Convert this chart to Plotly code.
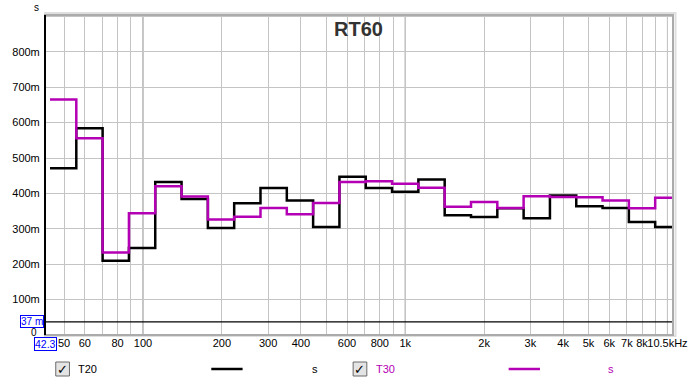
import math
import plotly.graph_objects as go

# ---- data ----
band_centres = [50, 63, 80, 100, 125, 160, 200, 250, 315, 400, 500, 630, 800,
                1000, 1250, 1600, 2000, 2500, 3150, 4000, 5000, 6300, 8000, 10000]
t20 = [0.471, 0.584, 0.210, 0.246, 0.432, 0.384, 0.302, 0.372, 0.415, 0.380,
       0.305, 0.447, 0.415, 0.405, 0.439, 0.338, 0.333, 0.358, 0.330, 0.394,
       0.364, 0.359, 0.319, 0.305]
t30 = [0.665, 0.556, 0.233, 0.344, 0.420, 0.391, 0.326, 0.334, 0.359, 0.341,
       0.373, 0.432, 0.434, 0.427, 0.416, 0.362, 0.376, 0.359, 0.392, 0.390,
       0.389, 0.380, 0.358, 0.388]
x_tick_vals = [50, 60, 80, 100, 200, 300, 400, 600, 800, 1000, 2000, 3000,
               4000, 5000, 6000, 7000, 8000, 10000]
x_tick_text = ["50", "60", "80", "100", "200", "300", "400", "600", "800", "1k",
               "2k", "3k", "4k", "5k", "6k", "7k", "8k", "10.5kHz"]
x_grid_vals = [50, 60, 70, 80, 90, 200, 300, 400, 500, 600, 700, 800, 900,
               2000, 3000, 4000, 5000, 6000, 7000, 8000, 9000]
x_major_grid = [100, 1000, 10000]
y_tick_vals = [0.1, 0.2, 0.3, 0.4, 0.5, 0.6, 0.7, 0.8, 0.9]
y_tick_text = ["100m", "200m", "300m", "400m", "500m", "600m", "700m", "800m", ""]
x_min, x_max = 42.3, 10500
y_min, y_max = 0.0, 0.904
marker_level = 0.037

# exact third-octave centres and band edges
exact = [1000 * 2 ** (round(3 * math.log2(c / 1000)) / 3) for c in band_centres]
half = 2 ** (1 / 6)
edges = [c / half for c in exact] + [exact[-1] * half]


def steps(vals):
    return edges, list(vals) + [vals[-1]]


FONT = "Liberation Sans, Arial, sans-serif"
fig = go.Figure()
ex, ey = steps(t20)
fig.add_trace(go.Scatter(x=ex, y=ey, mode="lines", line=dict(color="#000000", width=2.5, shape="hv"),
                         name="T20", showlegend=False))
ex, ey = steps(t30)
fig.add_trace(go.Scatter(x=ex, y=ey, mode="lines", line=dict(color="#b400b4", width=2.5, shape="hv"),
                         name="T30", showlegend=False))

fig.update_layout(
    width=700, height=382,
    margin=dict(l=39, r=19, t=15, b=47),
    paper_bgcolor="white", plot_bgcolor="white",
    font=dict(family=FONT, size=11, color="black"),
    xaxis=dict(type="log", range=[math.log10(x_min), math.log10(x_max)],
               tickvals=x_tick_vals, ticktext=x_tick_text, tickangle=0,
               showgrid=True, gridcolor="#c4c4c4", gridwidth=1,
               minor=dict(tickvals=x_grid_vals, showgrid=True, gridcolor="#c4c4c4", gridwidth=1, ticks=""),
               ticks="", zeroline=False, showline=False, tickfont=dict(size=11)),
    yaxis=dict(range=[y_min, y_max], tickvals=y_tick_vals, ticktext=y_tick_text,
               showgrid=True, gridcolor="#c4c4c4", gridwidth=1,
               ticks="outside", ticklen=2, tickcolor="rgba(0,0,0,0)",
               zeroline=False, showline=False, tickfont=dict(size=11)),
)

shapes = []
for v in x_major_grid:
    shapes.append(dict(type="line", xref="x", yref="paper", x0=v, x1=v, y0=0, y1=1,
                       line=dict(color="#8a8a8a", width=1), layer="below"))
# marker line at 37m
shapes.append(dict(type="line", xref="paper", yref="y", x0=0, x1=1, y0=marker_level, y1=marker_level,
                   line=dict(color="black", width=1.2)))
# frame (gray with shadow) and black left axis
shapes.append(dict(type="rect", xref="paper", yref="paper", x0=0, x1=1.004, y0=-0.003, y1=1.006,
                   line=dict(color="#dedede", width=2)))
shapes.append(dict(type="rect", xref="paper", yref="paper", x0=0, x1=1, y0=0, y1=1,
                   line=dict(color="#ababab", width=2)))
shapes.append(dict(type="line", xref="paper", yref="paper", x0=0, x1=0, y0=0, y1=1,
                   line=dict(color="black", width=2)))

# legend row (pixel -> paper conversions)
def px(x):
    return (x - 39) / (681 - 39)


def py(y):
    return (335 - y) / (335 - 15)


for cx in [57, 361]:
    shapes.append(dict(type="rect", xref="paper", yref="paper",
                       x0=px(cx - 7), x1=px(cx + 7), y0=py(376), y1=py(362),
                       line=dict(color="#6a6a6a", width=1), fillcolor="#e4e4e4"))
shapes.append(dict(type="line", xref="paper", yref="paper", x0=px(209), x1=px(241), y0=py(369), y1=py(369),
                   line=dict(color="black", width=2.5)))
shapes.append(dict(type="line", xref="paper", yref="paper", x0=px(513), x1=px(545), y0=py(369), y1=py(369),
                   line=dict(color="#b400b4", width=2.5)))
fig.update_layout(shapes=shapes)

ann = []
ann.append(dict(text="<b>RT60</b>", x=px(359), y=py(28.5), xref="paper", yref="paper", showarrow=False,
                font=dict(size=20, color="#333333", family=FONT), xanchor="center", yanchor="middle"))
ann.append(dict(text="s", x=px(30.5), y=py(8), xref="paper", yref="paper", showarrow=False,
                font=dict(size=10, color="black"), xanchor="center", yanchor="middle"))
ann.append(dict(text="0", x=px(33), y=py(332.5), xref="paper", yref="paper", showarrow=False,
                font=dict(size=10, color="black"), xanchor="right", yanchor="middle"))
ann.append(dict(text="37 m", x=px(37.5), y=marker_level, xref="paper", yref="y", showarrow=False,
                font=dict(size=10, color="#0000ff"), xanchor="right", yanchor="middle",
                bordercolor="#0000ff", borderwidth=1, borderpad=0, bgcolor="white"))
ann.append(dict(text="42.3", x=px(39), y=py(344), xref="paper", yref="paper", showarrow=False,
                font=dict(size=10.5, color="#0000ff"), xanchor="center", yanchor="middle",
                bordercolor="#0000ff", borderwidth=1, borderpad=0, bgcolor="white"))
for cx in [57, 361]:
    ann.append(dict(text="✓", x=px(cx), y=py(369), xref="paper", yref="paper", showarrow=False,
                    font=dict(size=13, color="black", family="DejaVu Sans"), xanchor="center", yanchor="middle"))
ann.append(dict(text="T20", x=px(70.5), y=py(369), xref="paper", yref="paper", showarrow=False,
                font=dict(size=11, color="black"), xanchor="left", yanchor="middle"))
ann.append(dict(text="s", x=px(315), y=py(369), xref="paper", yref="paper", showarrow=False,
                font=dict(size=11, color="black"), xanchor="center", yanchor="middle"))
ann.append(dict(text="T30", x=px(375), y=py(369), xref="paper", yref="paper", showarrow=False,
                font=dict(size=11, color="#b400b4"), xanchor="left", yanchor="middle"))
ann.append(dict(text="s", x=px(618), y=py(369), xref="paper", yref="paper", showarrow=False,
                font=dict(size=11, color="#b400b4"), xanchor="center", yanchor="middle"))
fig.update_layout(annotations=ann)

fig.write_html("out.html")
